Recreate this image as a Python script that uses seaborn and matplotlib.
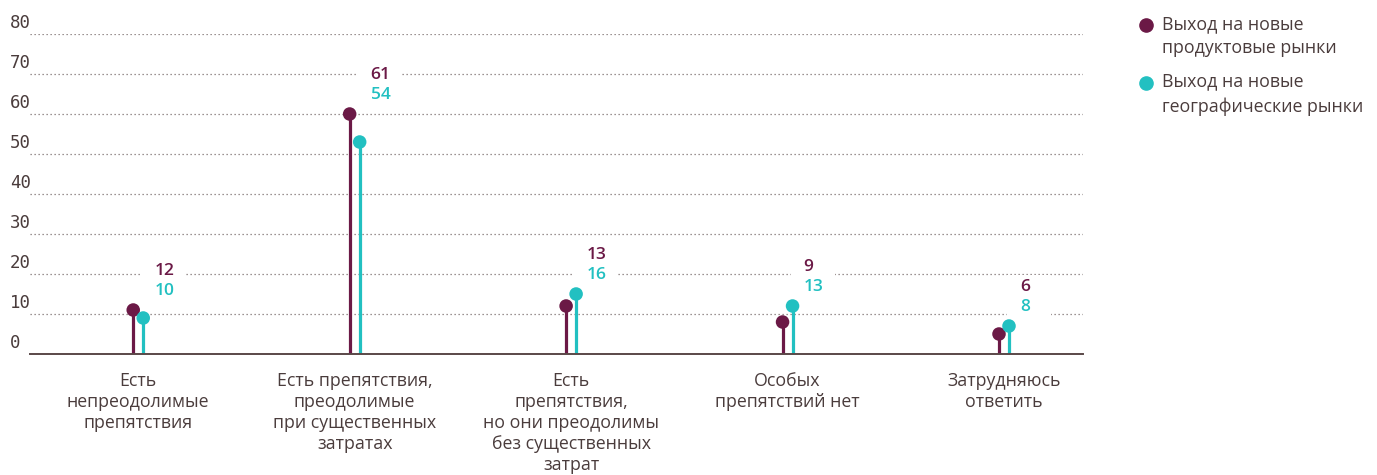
import numpy as np
import pandas as pd
import matplotlib
matplotlib.use("Agg")
import matplotlib.pyplot as plt
import seaborn as sns
from matplotlib.transforms import ScaledTranslation, blended_transform_factory
from matplotlib.lines import Line2D
from matplotlib.patches import Rectangle

# ---------------- data ----------------
categories = [
    "Есть\nнепреодолимые\nпрепятствия",
    "Есть препятствия,\nпреодолимые\nпри существенных\nзатратах",
    "Есть\nпрепятствия,\nно они преодолимы\nбез существенных\nзатрат",
    "Особых\nпрепятствий нет",
    "Затрудняюсь\nответить",
]
series_names = ["Выход на новые\nпродуктовые рынки", "Выход на новые\nгеографические рынки"]
product_values = [12, 61, 13, 9, 6]
geo_values = [10, 54, 16, 13, 8]
y_ticks = [0, 10, 20, 30, 40, 50, 60, 70, 80]

# ---------------- style ----------------
PURPLE = "#6b1946"
TEAL = "#22c0c1"
TEXT = "#4a3c3c"
GRID = "#7d7070"
colors = [PURPLE, TEAL]
FONT = ["Open Sans", "DejaVu Sans"]

sns.set_theme(style="white")
plt.rcParams["font.family"] = FONT

W, H = 1377, 475
fig = plt.figure(figsize=(W / 100, H / 100), dpi=100)
ax = fig.add_axes([30 / W, 1 - 354 / H, (1083 - 30) / W, 320 / H])

# long table
n = len(categories)
df = pd.DataFrame({
    "cat": list(range(n)) * 2,
    "value": product_values + geo_values,
    "series": [series_names[0]] * n + [series_names[1]] * n,
})
dodge = 0.0231
df["x"] = df["cat"] + np.where(df["series"] == series_names[0], -dodge, dodge)

# slight downward shift so the top of each dot sits at its value
shift = ScaledTranslation(0, -4 / 100, fig.dpi_scale_trans)

for s, c in zip(series_names, colors):
    sub = df[df["series"] == s]
    lc = ax.vlines(sub["x"], 0, sub["value"], color=c, lw=2.3, zorder=4)
    lc.set_transform(ax.transData + shift)

sns.scatterplot(data=df, x="x", y="value", hue="series", palette=colors,
                s=95, linewidth=0, ax=ax, legend=False, zorder=5)
for coll in ax.collections[-1:]:
    coll.set_offset_transform(ax.transData + shift)
    coll.set_clip_on(False)

# value labels: white knock-out rectangle behind both numbers, then coloured numbers
for i in range(n):
    top = max(product_values[i], geo_values[i])
    anchor = fig.dpi_scale_trans + ScaledTranslation(i, top, ax.transData)
    ax.add_patch(Rectangle((0.03, 0.0), 0.44, 0.47, transform=anchor,
                           fc="white", ec="none", zorder=2))
    for val, c, dy in [(product_values[i], PURPLE, 25.2), (geo_values[i], TEAL, 10.8)]:
        ax.annotate(str(val), xy=(i, top), xytext=(11.5, dy), textcoords="offset points",
                    ha="left", va="center", color=c, fontsize=12.5, fontweight="semibold",
                    zorder=3)

# axes
ax.set_xlim(-0.5, 4.365)
ax.set_ylim(0, 80)
ax.set_yticks(y_ticks)
ax.yaxis.grid(True, linestyle=(0, (1, 2.2)), color=GRID, lw=0.9)
ax.xaxis.grid(False)
ax.set_axisbelow(True)
ax.tick_params(axis="y", labelleft=False, length=0)
ax.set_xticks(range(n))
ax.set_xticklabels(categories, fontsize=12.8, color=TEXT)
ax.tick_params(axis="x", length=0, pad=13)
for lbl in ax.get_xticklabels():
    lbl.set_linespacing(1.21)
ax.set_xlabel("")
ax.set_ylabel("")
for sp in ["left", "right", "top"]:
    ax.spines[sp].set_visible(False)
ax.spines["bottom"].set_color("#5a4848")
ax.spines["bottom"].set_linewidth(1.4)
ax.spines["bottom"].set_zorder(6)

# y tick labels above gridlines
ytrans = blended_transform_factory(fig.transFigure, ax.transData) + \
    ScaledTranslation(0, 11 / 100, fig.dpi_scale_trans)
for v in y_ticks:
    ax.text(10 / W, v, str(v), transform=ytrans, ha="left", va="center",
            fontsize=12.5, color=TEXT, family="DejaVu Sans Mono")

# legend
for k, (s, c) in enumerate(zip(series_names, colors)):
    yc = 25 + 58 * k
    fig.add_artist(Line2D([1146 / W], [1 - yc / H], transform=fig.transFigure,
                          marker="o", ms=9.5, color=c, lw=0))
    fig.text(1162 / W, 1 - (yc + 11) / H, s, ha="left", va="center",
             fontsize=12.8, color=TEXT, linespacing=1.45)

fig.savefig("out.png", dpi=100)
